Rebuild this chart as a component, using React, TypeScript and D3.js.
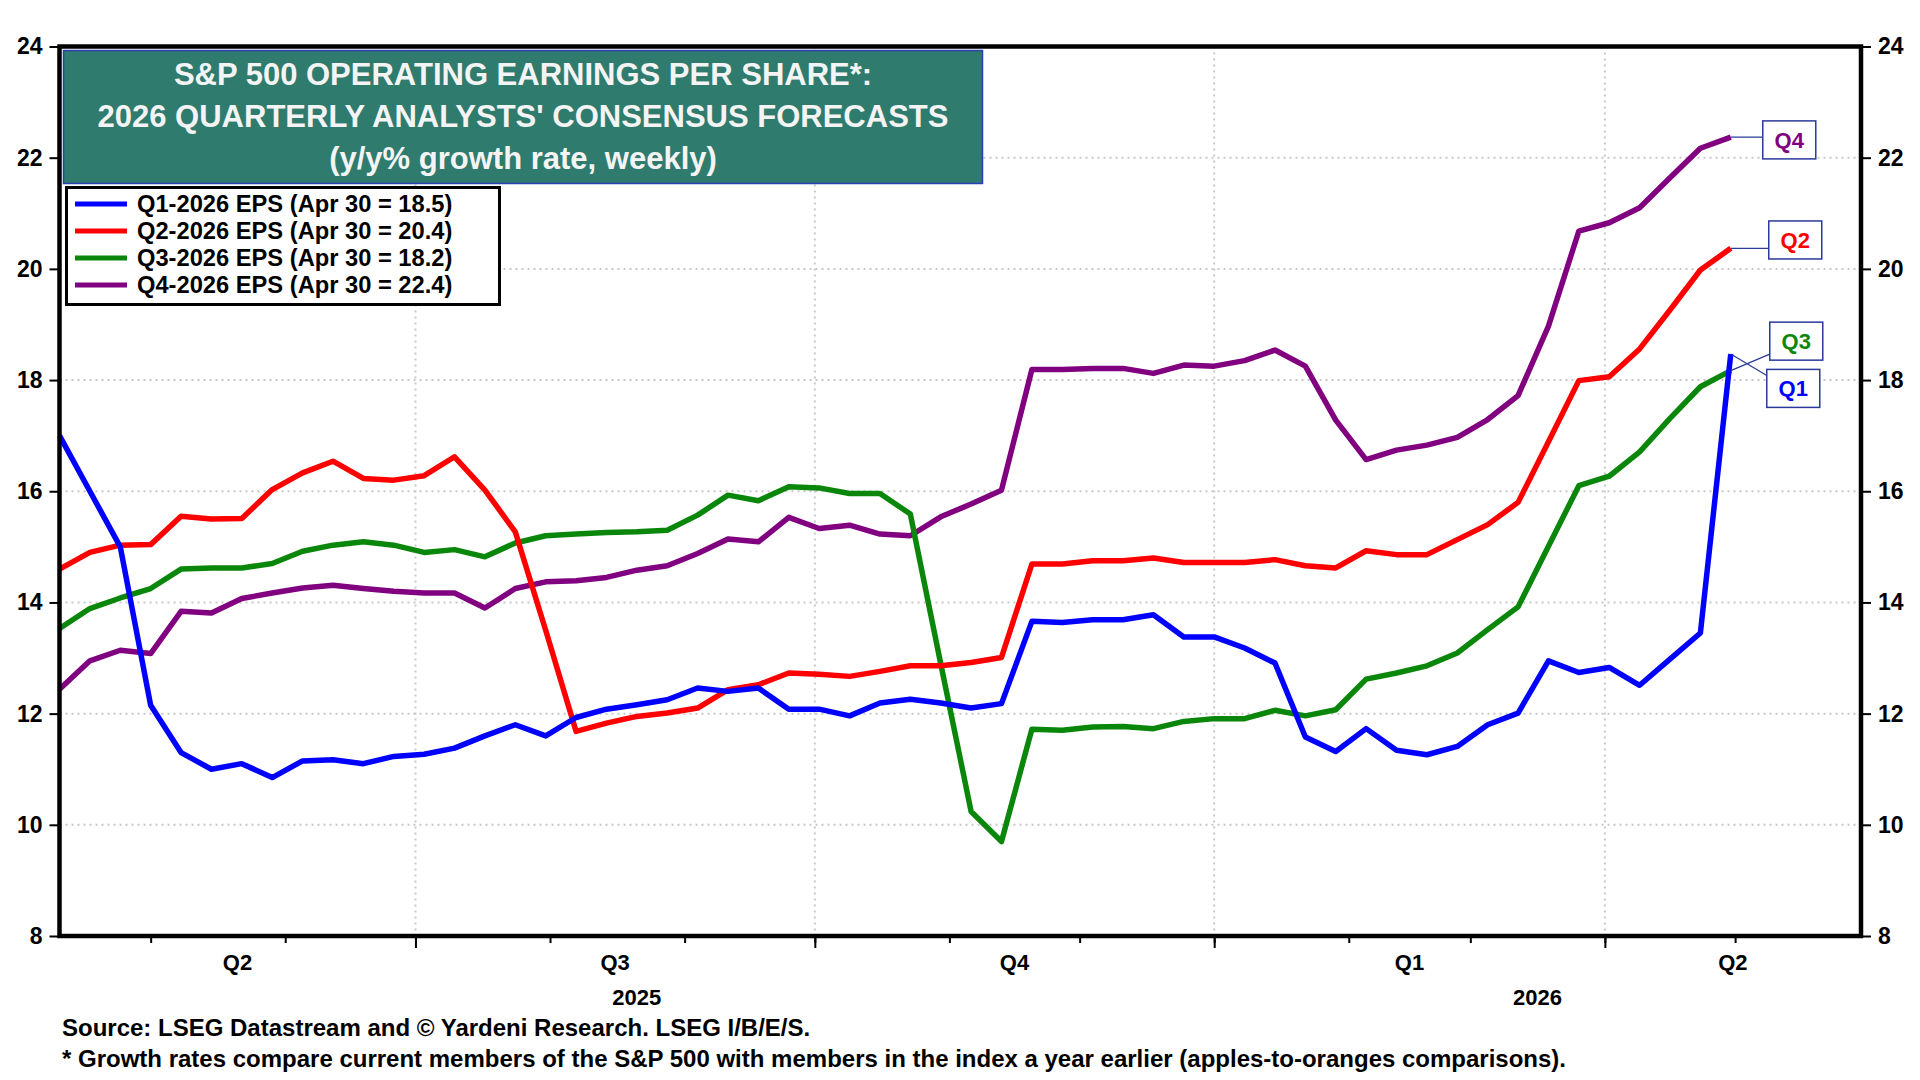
import React, { useEffect, useRef } from "react";
import * as d3 from "d3";

// weekly readings, Thursdays from Apr 10 2025 to Apr 30 2026
const firstWeek = new Date(2025, 3, 10);
const domainEnd = new Date(2026, 4, 30);

const q1Values = [
  17.0, 16.0, 15.0, 12.15, 11.3, 11.0, 11.1, 10.85, 11.15, 11.17, 11.1, 11.23, 11.27, 11.38, 11.6, 11.8,
  11.6, 11.93, 12.08, 12.16, 12.25, 12.46, 12.4, 12.46, 12.08, 12.08, 11.96, 12.19, 12.26, 12.19, 12.1, 12.18,
  13.66, 13.64, 13.69, 13.69, 13.78, 13.38, 13.38, 13.18, 12.91, 11.58, 11.32, 11.73, 11.34, 11.26, 11.41, 11.8,
  12.01, 12.95, 12.74, 12.83, 12.51, 12.98, 13.45, 18.47,
];
const q2Values = [
  14.6, 14.9, 15.03, 15.04, 15.55, 15.5, 15.51, 16.03, 16.33, 16.54, 16.23, 16.2, 16.28, 16.62, 16.02, 15.27,
  13.5, 11.68, 11.83, 11.95, 12.01, 12.1, 12.43, 12.52, 12.73, 12.71, 12.67, 12.76, 12.86, 12.86, 12.92, 13.01,
  14.69, 14.69, 14.75, 14.75, 14.8, 14.72, 14.72, 14.72, 14.77, 14.66, 14.62, 14.93, 14.86, 14.86, 15.13, 15.4,
  15.8, 16.89, 17.99, 18.06, 18.56, 19.26, 19.98, 20.37,
];
const q3Values = [
  13.53, 13.89, 14.08, 14.25, 14.6, 14.62, 14.62, 14.7, 14.92, 15.03, 15.09, 15.03, 14.9, 14.95, 14.82, 15.07,
  15.2, 15.23, 15.26, 15.27, 15.3, 15.57, 15.93, 15.83, 16.08, 16.06, 15.96, 15.96, 15.59, 12.9, 10.24, 9.7,
  11.72, 11.7, 11.76, 11.77, 11.73, 11.86, 11.91, 11.91, 12.06, 11.96, 12.07, 12.62, 12.73, 12.86, 13.09, 13.51,
  13.92, 15.01, 16.1, 16.27, 16.71, 17.31, 17.88, 18.17,
];
const q4Values = [
  12.44, 12.95, 13.14, 13.08, 13.84, 13.81, 14.07, 14.17, 14.26, 14.31, 14.25, 14.2, 14.17, 14.17, 13.9, 14.25,
  14.37, 14.39, 14.45, 14.58, 14.66, 14.88, 15.14, 15.09, 15.53, 15.33, 15.39, 15.23, 15.2, 15.54, 15.77, 16.02,
  18.19, 18.19, 18.21, 18.21, 18.12, 18.27, 18.25, 18.35, 18.54, 18.25, 17.28, 16.57, 16.74, 16.83, 16.97, 17.29,
  17.72, 18.97, 20.68, 20.83, 21.1, 21.64, 22.17, 22.37,
];

const seriesNames = [
  "Q1-2026 EPS (Apr 30 = 18.5)",
  "Q2-2026 EPS (Apr 30 = 20.4)",
  "Q3-2026 EPS (Apr 30 = 18.2)",
  "Q4-2026 EPS (Apr 30 = 22.4)",
];
const endLabels = ["Q1", "Q2", "Q3", "Q4"];
const endLabelLevels = [17.85, 20.52, 18.7, 22.32];
const seriesColors = ["#0000ff", "#ff0000", "#0a870a", "#800080"];
const yTicks = [8, 10, 12, 14, 16, 18, 20, 22, 24];
const titleLines = [
  "S&P 500 OPERATING EARNINGS PER SHARE*:",
  "2026 QUARTERLY ANALYSTS' CONSENSUS FORECASTS",
  "(y/y% growth rate, weekly)",
];
const sourceNote = "Source: LSEG Datastream and © Yardeni Research. LSEG I/B/E/S.";
const footNote =
  "* Growth rates compare current members of the S&P 500 with members in the index a year earlier (apples-to-oranges comparisons).";

const W = 1920;
const H = 1080;
const font = "'Liberation Sans', Arial, Helvetica, sans-serif";

const App = () => {
  const ref = useRef<SVGSVGElement>(null);

  useEffect(() => {
    const svg = d3.select(ref.current);
    svg.selectAll("*").remove();

    const left = 59.5;
    const right = 1861;
    const top = 46.5;
    const bottom = 936;

    const dates = q1Values.map((_, i) => d3.timeWeek.offset(firstWeek, i));
    const allSeries = [q1Values, q2Values, q3Values, q4Values];

    const x = d3.scaleTime().domain([firstWeek, domainEnd]).range([left, right]);
    const y = d3.scaleLinear().domain([8, 24]).range([bottom, top]);

    svg.append("rect").attr("width", W).attr("height", H).attr("fill", "#fff");

    // grid
    const quarterStarts = d3.timeMonth.every(3)!.range(firstWeek, domainEnd);
    const grid = svg.append("g").attr("stroke", "#c8c8c8").attr("stroke-width", 2).attr("stroke-dasharray", "2 4");
    grid
      .selectAll("line.h")
      .data(yTicks.slice(1, -1))
      .join("line")
      .attr("x1", left)
      .attr("x2", right)
      .attr("y1", (d) => y(d))
      .attr("y2", (d) => y(d));
    grid
      .selectAll("line.v")
      .data(quarterStarts)
      .join("line")
      .attr("x1", (d) => x(d))
      .attr("x2", (d) => x(d))
      .attr("y1", top)
      .attr("y2", bottom);

    // series, Q4 first so Q1 ends on top
    const line = d3
      .line<number>()
      .x((_, i) => x(dates[i]))
      .y((d) => y(d));
    [3, 2, 1, 0].forEach((k) => {
      svg
        .append("path")
        .datum(allSeries[k])
        .attr("fill", "none")
        .attr("stroke", seriesColors[k])
        .attr("stroke-width", 5.5)
        .attr("stroke-linejoin", "round")
        .attr("d", line);
    });

    // frame
    svg
      .append("rect")
      .attr("x", left)
      .attr("y", top)
      .attr("width", right - left)
      .attr("height", bottom - top)
      .attr("fill", "none")
      .attr("stroke", "#000")
      .attr("stroke-width", 4.5);

    // y axes
    const styleAxis = (g: d3.Selection<SVGGElement, unknown, null, undefined>) => {
      g.select(".domain").remove();
      g.selectAll(".tick line").attr("stroke", "#000").attr("stroke-width", 2);
      g.selectAll(".tick text")
        .attr("fill", "#000")
        .style("font-family", font)
        .style("font-weight", "bold")
        .style("font-size", "23px");
    };
    svg
      .append("g")
      .attr("transform", `translate(${left},0)`)
      .call(d3.axisLeft(y).tickValues(yTicks).tickSize(10).tickPadding(7).tickFormat(d3.format("d")))
      .call(styleAxis);
    svg
      .append("g")
      .attr("transform", `translate(${right},0)`)
      .call(d3.axisRight(y).tickValues(yTicks).tickSize(10).tickPadding(7).tickFormat(d3.format("d")))
      .call(styleAxis);

    // x axis: monthly minor ticks, quarterly major ticks
    svg
      .append("g")
      .attr("transform", `translate(0,${bottom})`)
      .call(d3.axisBottom(x).ticks(d3.timeMonth.every(1)).tickSize(7).tickFormat(() => ""))
      .call(styleAxis);
    svg
      .append("g")
      .attr("transform", `translate(0,${bottom})`)
      .call(d3.axisBottom(x).tickValues(quarterStarts).tickSize(12).tickFormat(() => ""))
      .call(styleAxis);

    const [d0, d1] = x.domain();
    const clampMid = (a: Date, b: Date) =>
      (x(a < d0 ? d0 : a) + x(b > d1 ? d1 : b)) / 2;

    const quarters = d3.timeMonth.every(3)!.range(d3.timeMonth.every(3)!.floor(d0), d1);
    svg
      .selectAll("text.q")
      .data(quarters)
      .join("text")
      .attr("x", (d) => clampMid(d, d3.timeMonth.offset(d, 3)))
      .attr("y", 970)
      .attr("text-anchor", "middle")
      .style("font-family", font)
      .style("font-weight", "bold")
      .style("font-size", "22px")
      .text((d) => "Q" + (Math.floor(d.getMonth() / 3) + 1));

    const years = d3.timeYear.range(d3.timeYear.floor(d0), d1);
    svg
      .selectAll("text.yr")
      .data(years)
      .join("text")
      .attr("x", (d) => clampMid(d, d3.timeYear.offset(d, 1)))
      .attr("y", 1005)
      .attr("text-anchor", "middle")
      .style("font-family", font)
      .style("font-weight", "bold")
      .style("font-size", "22px")
      .text((d) => d3.timeFormat("%Y")(d));

    // title box
    svg
      .append("rect")
      .attr("x", 63.5)
      .attr("y", 50.5)
      .attr("width", 919)
      .attr("height", 133)
      .attr("fill", "#2f7b6e")
      .attr("stroke", "#2a3fb5")
      .attr("stroke-width", 1.5);
    svg
      .selectAll("text.title")
      .data(titleLines)
      .join("text")
      .attr("x", 523)
      .attr("y", (_, i) => 85 + i * 42)
      .attr("text-anchor", "middle")
      .attr("fill", "#f4f4f4")
      .style("font-family", font)
      .style("font-weight", "bold")
      .style("font-size", "31px")
      .text((d) => d);

    // legend
    const legend = svg.append("g");
    legend
      .append("rect")
      .attr("x", 66.5)
      .attr("y", 187.5)
      .attr("width", 433)
      .attr("height", 117)
      .attr("fill", "#fff")
      .attr("stroke", "#000")
      .attr("stroke-width", 3);
    seriesNames.forEach((name, i) => {
      const cy = 204 + i * 27;
      legend
        .append("line")
        .attr("x1", 75)
        .attr("x2", 127)
        .attr("y1", cy)
        .attr("y2", cy)
        .attr("stroke", seriesColors[i])
        .attr("stroke-width", 5);
      legend
        .append("text")
        .attr("x", 137)
        .attr("y", cy + 8)
        .style("font-family", font)
        .style("font-weight", "bold")
        .style("font-size", "23.7px")
        .text(name);
    });

    // end labels
    const lastDate = dates[dates.length - 1];
    const bw = 53;
    const bh = 38;
    endLabels.forEach((lab, k) => {
      const ex = x(lastDate);
      const ey = y(allSeries[k][allSeries[k].length - 1]);
      const bx = ex + [36, 38, 39, 32][k];
      const by = y(endLabelLevels[k]) - bh / 2;
      const cy = Math.max(by + 6, Math.min(by + bh - 6, ey));
      svg
        .append("line")
        .attr("x1", ex)
        .attr("y1", ey)
        .attr("x2", bx)
        .attr("y2", cy)
        .attr("stroke", "#2a3a9a")
        .attr("stroke-width", 1.2);
      svg
        .append("rect")
        .attr("x", bx)
        .attr("y", by)
        .attr("width", bw)
        .attr("height", bh)
        .attr("fill", "#fff")
        .attr("stroke", "#2a3a9a")
        .attr("stroke-width", 1.5);
      svg
        .append("text")
        .attr("x", bx + bw / 2)
        .attr("y", by + bh / 2 + 8)
        .attr("text-anchor", "middle")
        .attr("fill", seriesColors[k])
        .style("font-family", font)
        .style("font-weight", "bold")
        .style("font-size", "22px")
        .text(lab);
    });

    // notes
    svg
      .selectAll("text.note")
      .data([sourceNote, footNote])
      .join("text")
      .attr("x", 62)
      .attr("y", (_, i) => 1036 + i * 31)
      .style("font-family", font)
      .style("font-weight", "bold")
      .style("font-size", "24px")
      .text((d) => d);
  }, []);

  return (
    <svg
      ref={ref}
      width={W}
      height={H}
      style={{ position: "absolute", left: 0, top: 0, display: "block" }}
    />
  );
};

export default App;
